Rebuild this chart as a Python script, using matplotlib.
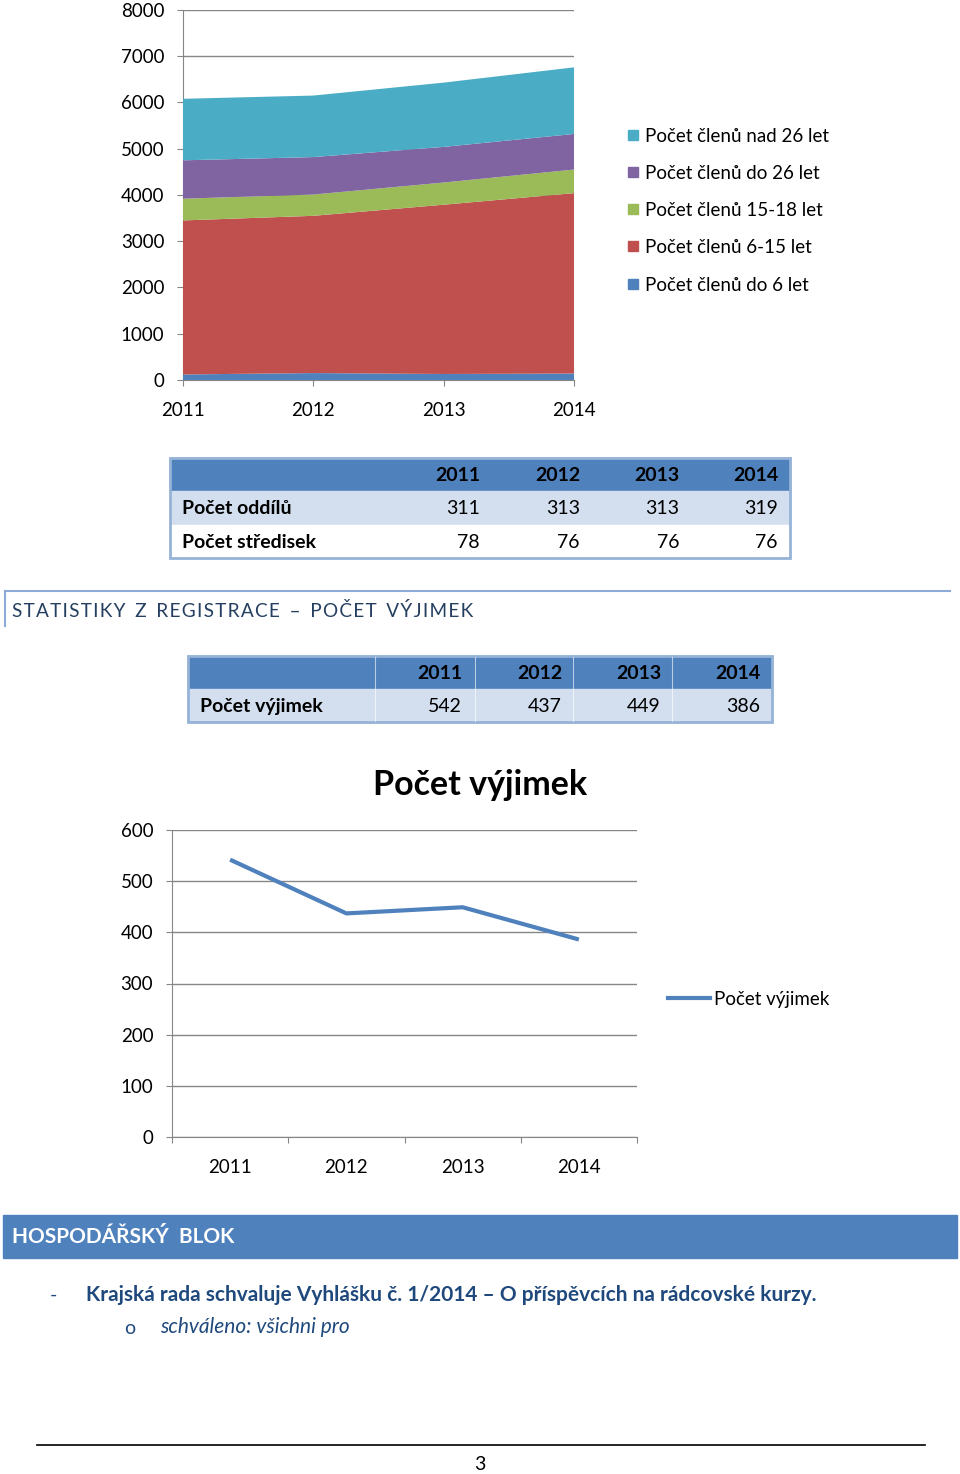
import matplotlib
matplotlib.use("Agg")
import matplotlib.pyplot as plt
from matplotlib.patches import Rectangle
from matplotlib.lines import Line2D

plt.rcParams['font.family'] = ['Lato', 'DejaVu Sans']

W, H = 960, 1474

# Data
years = [2011, 2012, 2013, 2014]
members_labels = ["Počet členů do 6 let", "Počet členů 6-15 let", "Počet členů 15-18 let",
                  "Počet členů do 26 let", "Počet členů nad 26 let"]
members_do6 = [120, 150, 130, 140]
members_6_15 = [3330, 3400, 3660, 3900]
members_15_18 = [470, 460, 480, 510]
members_do26 = [830, 810, 770, 770]
members_nad26 = [1330, 1330, 1390, 1440]
members_colors = ["#4F81BD", "#C0504D", "#9BBB59", "#8064A2", "#4BACC6"]

table1_rows = ["Počet oddílů", "Počet středisek"]
oddily = [311, 313, 313, 319]
strediska = [78, 76, 76, 76]

vyjimky_label = "Počet výjimek"
vyjimky = [542, 437, 449, 386]

heading = "STATISTIKY Z REGISTRACE – POČET VÝJIMEK"

BLUE = "#4F81BD"
LIGHT = "#D3DFEE"
BORDER = "#95B3D7"
GRID = "#868686"
DARK = "#1F497D"


def fx(x):
    return x / W


def fy(y):
    return 1 - y / H


fig = plt.figure(figsize=(W / 100, H / 100), dpi=100)

# ---- stacked area chart ----
ax1 = fig.add_axes([fx(183), fy(380), (574 - 183) / W, (380 - 10) / H])
series = [members_do6, members_6_15, members_15_18, members_do26, members_nad26]
ax1.stackplot(years, *series, colors=members_colors, zorder=3)
ax1.set_xlim(2011, 2014)
ax1.set_ylim(0, 8000)
ax1.set_yticks(range(0, 8001, 1000))
ax1.set_xticks(years)
ax1.set_xticklabels([str(y) for y in years])
ax1.yaxis.grid(True, color=GRID, lw=1, zorder=0)
ax1.set_axisbelow(True)
for s in ["top", "right"]:
    ax1.spines[s].set_visible(False)
for s in ["left", "bottom"]:
    ax1.spines[s].set_color(GRID)
ax1.tick_params(axis="both", direction="out", length=4.5, color=GRID, labelsize=13.5)
ax1.tick_params(axis="x", pad=11)
ax1.tick_params(axis="y", pad=9)

# legend
leg_y = [284, 246, 209, 172, 135]
for lab, col, yy in zip(members_labels, members_colors, leg_y):
    fig.patches.append(Rectangle((fx(628), fy(yy + 5)), 10 / W, 10 / H, color=col,
                                 transform=fig.transFigure, figure=fig))
    fig.text(fx(645), fy(yy + 1.5), lab, fontsize=13.5, va="center", ha="left")


# ---- tables ----
def draw_table(x0, x1, y0, row_h, col_right, rows, shade):
    nrows = len(rows) + 1
    # header
    fig.patches.append(Rectangle((fx(x0), fy(y0 + row_h)), (x1 - x0) / W, row_h / H,
                                 color=BLUE, transform=fig.transFigure, figure=fig))
    for i, (lab, vals) in enumerate(rows):
        top = y0 + row_h * (i + 1)
        col = shade[i]
        fig.patches.append(Rectangle((fx(x0), fy(top + row_h)), (x1 - x0) / W, row_h / H,
                                     color=col, transform=fig.transFigure, figure=fig))
        fig.text(fx(x0 + 12), fy(top + row_h / 2 + 1), lab, fontsize=14, fontweight="bold",
                 va="center", ha="left")
        for v, xr in zip(vals, col_right):
            fig.text(fx(xr), fy(top + row_h / 2 + 1), str(v), fontsize=14, va="center", ha="right")
    for yv, xr in zip(years, col_right):
        fig.text(fx(xr), fy(y0 + row_h / 2 + 1), str(yv), fontsize=14, fontweight="bold",
                 va="center", ha="right")
    fig.patches.append(Rectangle((fx(x0), fy(y0 + row_h * nrows)), (x1 - x0) / W,
                                 row_h * nrows / H, fill=False, ec=BORDER, lw=2,
                                 transform=fig.transFigure, figure=fig))


draw_table(170, 790, 458, 33.3, [480, 580, 679, 778],
           [(table1_rows[0], oddily), (table1_rows[1], strediska)], [LIGHT, "white"])

# heading (letter-spaced)
fig.add_artist(Line2D([fx(5), fx(950)], [fy(591), fy(591)], color="#8EAAD6", lw=1.5))
fig.add_artist(Line2D([fx(5), fx(5)], [fy(591), fy(626)], color="#8EAAD6", lw=1.5))
spaced = "\u200a".join(heading).replace("\u200a \u200a", "\u2009 \u2009")
fig.text(fx(12), fy(611), spaced, fontsize=13.7, color="#243F60", va="center", ha="left")

draw_table(188, 772, 656, 33, [462, 562, 661, 760],
           [(vyjimky_label, vyjimky)], [LIGHT])
for xs in [375, 475, 573, 672]:
    fig.add_artist(Line2D([fx(xs), fx(xs)], [fy(657), fy(721)], color="white", lw=0.8, alpha=0.6))

# ---- line chart ----
fig.text(fx(480), fy(785), "Počet výjimek", fontsize=24.5, fontweight="bold", ha="center", va="center")
ax2 = fig.add_axes([fx(172), fy(1137), (637 - 172) / W, (1137 - 830) / H])
xs = list(range(len(years)))
ax2.plot(xs, vyjimky, color=BLUE, lw=3, solid_capstyle="butt", zorder=3)
ax2.set_xlim(-0.5, len(years) - 0.5)
ax2.set_ylim(0, 600)
ax2.set_yticks(range(0, 601, 100))
ax2.set_xticks([x - 0.5 for x in range(len(years) + 1)])
ax2.set_xticklabels([])
ax2.set_xticks(xs, minor=True)
ax2.set_xticklabels([str(y) for y in years], minor=True)
ax2.tick_params(axis="x", which="minor", length=0, labelsize=13.5, pad=15.5)
ax2.tick_params(axis="x", which="major", direction="out", length=4.5, color=GRID)
ax2.tick_params(axis="y", direction="out", length=4.5, color=GRID, labelsize=13.5, pad=9)
ax2.yaxis.grid(True, color=GRID, lw=1, zorder=0)
ax2.set_axisbelow(True)
for s in ["top", "right"]:
    ax2.spines[s].set_visible(False)
for s in ["left", "bottom"]:
    ax2.spines[s].set_color(GRID)

fig.add_artist(Line2D([fx(668), fx(710)], [fy(998), fy(998)], color=BLUE, lw=3))
fig.text(fx(714), fy(999), vyjimky_label, fontsize=13.5, va="center", ha="left")

# ---- bottom block ----
fig.patches.append(Rectangle((fx(3), fy(1258)), (957 - 3) / W, 43 / H, color=BLUE,
                             transform=fig.transFigure, figure=fig))
fig.text(fx(12), fy(1237), "HOSPODÁŘSKÝ  BLOK", fontsize=15, fontweight="bold", color="white",
         va="center", ha="left")
fig.text(fx(50), fy(1295), "-", fontsize=14, color=DARK, va="center", ha="left")
fig.text(fx(86), fy(1295), "Krajská rada schvaluje Vyhlášku č. 1/2014 – O příspěvcích na rádcovské kurzy.",
         fontsize=15, fontweight="bold", color=DARK, va="center", ha="left")
fig.text(fx(124), fy(1329), "o", fontsize=14, color=DARK, va="center", ha="left")
fig.text(fx(160), fy(1327), "schváleno: všichni pro", fontsize=15, style="italic", color=DARK,
         va="center", ha="left")

fig.add_artist(Line2D([fx(37), fx(925)], [fy(1445), fy(1445)], color="black", lw=1.2))
fig.text(fx(480), fy(1465), "3", fontsize=14, ha="center", va="center")

fig.savefig("out.png", dpi=100)
